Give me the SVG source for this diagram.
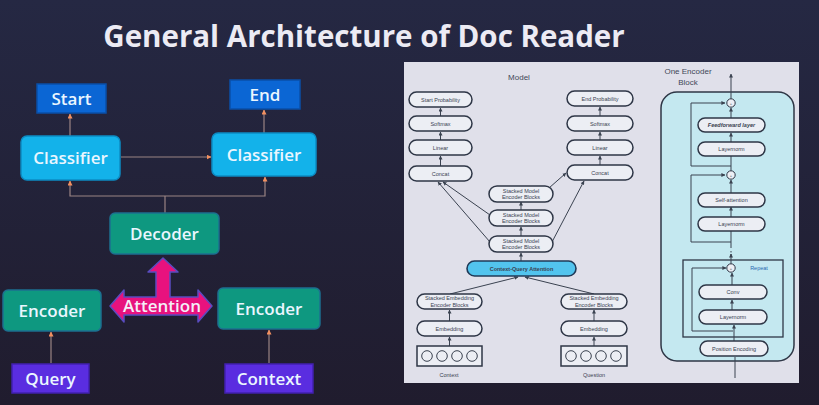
<svg xmlns="http://www.w3.org/2000/svg" width="819" height="405" viewBox="0 0 819 405">
<defs>
<linearGradient id="bg" x1="0" y1="0" x2="0" y2="1">
<stop offset="0" stop-color="#252843"/>
<stop offset="1" stop-color="#201c2e"/>
</linearGradient>
<marker id="oa" viewBox="0 0 10 10" refX="9" refY="5" markerWidth="5" markerHeight="5" orient="auto-start-reverse" markerUnits="userSpaceOnUse">
<path d="M0,0 L10,5 L0,10 Z" fill="#f39060"/>
</marker>
<marker id="ka" viewBox="0 0 10 10" refX="9" refY="5" markerWidth="4" markerHeight="4" orient="auto" markerUnits="userSpaceOnUse">
<path d="M0,0 L10,5 L0,10 Z" fill="#3a4250"/>
</marker>
<style>
.t{font-family:"Open Sans","Noto Sans","Liberation Sans",sans-serif;text-anchor:middle}
.big{font-size:17px;fill:#eaf6ff;font-weight:600}
.ln{stroke:#9a8484;stroke-width:1.2;fill:none}
.pill{fill:#eceef4;stroke:#2e3646;stroke-width:1.5}
.s{font-family:"Liberation Sans","DejaVu Sans",sans-serif;font-size:5.5px;fill:#3a4252;text-anchor:middle}
.k{stroke:#3a4250;stroke-width:1;fill:none}
.cap{font-family:"Liberation Sans",sans-serif;font-size:8px;fill:#404858;text-anchor:middle}
</style>
</defs>
<rect width="819" height="405" fill="url(#bg)"/>
<text x="364" y="47" class="t" font-size="29.5" font-weight="bold" fill="#ecebf4">General Architecture of Doc Reader</text>

<g id="connectors">
<line class="ln" x1="70" y1="136" x2="70" y2="114" marker-end="url(#oa)"/>
<line class="ln" x1="264" y1="133" x2="264" y2="110" marker-end="url(#oa)"/>
<line class="ln" x1="121" y1="157" x2="211" y2="157" marker-end="url(#oa)"/>
<line class="ln" x1="165" y1="213" x2="165" y2="196"/>
<polyline class="ln" points="70,181 70,196 265,196 265,177" marker-start="url(#oa)" marker-end="url(#oa)"/>
<line class="ln" x1="51" y1="363" x2="51" y2="332" marker-end="url(#oa)"/>
<line class="ln" x1="269" y1="363" x2="269" y2="330" marker-end="url(#oa)"/>
</g>

<g id="start"><rect x="37" y="84" width="69" height="29" fill="#0b66d4" stroke="#0a4fa8" stroke-width="1.5"/><text x="71.5" y="105" class="t big">Start</text></g>
<g id="end"><rect x="230" y="80" width="70" height="29" fill="#0b66d4" stroke="#0a4fa8" stroke-width="1.5"/><text x="265" y="101" class="t big">End</text></g>
<g id="classifier-left"><rect x="21" y="136" width="99" height="44" rx="6" fill="#13b2ea" stroke="#0c8cc4" stroke-width="1.5"/><text x="70.5" y="164" class="t big" font-size="18">Classifier</text></g>
<g id="classifier-right"><rect x="212" y="133" width="104" height="43" rx="6" fill="#13b2ea" stroke="#0c8cc4" stroke-width="1.5"/><text x="264" y="161" class="t big" font-size="18">Classifier</text></g>
<g id="decoder"><rect x="110" y="213" width="109" height="41" rx="5" fill="#0e9880" stroke="#1d6f90" stroke-width="1.5"/><text x="164.5" y="240" class="t big" font-size="18" fill="#e2f6ee">Decoder</text></g>
<g id="encoder-left"><rect x="3" y="290" width="98" height="41" rx="5" fill="#0e9880" stroke="#1d6f90" stroke-width="1.5"/><text x="52" y="317" class="t big" font-size="18" fill="#e2f6ee">Encoder</text></g>
<g id="encoder-right"><rect x="218" y="288" width="102" height="41" rx="5" fill="#0e9880" stroke="#1d6f90" stroke-width="1.5"/><text x="269" y="315" class="t big" font-size="18" fill="#e2f6ee">Encoder</text></g>
<g id="attention">
<path d="M110,306 L124,290 L124,297 L156,297 L156,272 L148,272 L163,258 L178,272 L170,272 L170,297 L198,297 L198,290 L212,306 L198,322 L198,315 L124,315 L124,322 Z" fill="#e8127e" stroke="#5a4cc0" stroke-width="1.5" stroke-linejoin="round"/>
<text x="162" y="312" class="t" font-size="17" font-weight="600" fill="#f4eef8">Attention</text>
</g>
<g id="query"><rect x="12" y="364" width="77" height="29" fill="#5a2de0" stroke="#4220b0" stroke-width="1.5"/><text x="50.5" y="385" class="t big" fill="#f0eaff">Query</text></g>
<g id="context"><rect x="225" y="364" width="88" height="29" fill="#5a2de0" stroke="#4220b0" stroke-width="1.5"/><text x="269" y="385" class="t big" fill="#f0eaff">Context</text></g>

<!-- paper figure -->
<g id="paper">
<rect x="404" y="62" width="395" height="321" fill="#e0e0ea"/>
<text x="519" y="80" class="cap">Model</text>

<g id="paper-connectors">
<line class="k" x1="440.5" y1="116" x2="440.5" y2="108" marker-end="url(#ka)"/>
<line class="k" x1="440.5" y1="140" x2="440.5" y2="132" marker-end="url(#ka)"/>
<line class="k" x1="440.5" y1="166" x2="440.5" y2="156" marker-end="url(#ka)"/>
<line class="k" x1="600" y1="116" x2="600" y2="107" marker-end="url(#ka)"/>
<line class="k" x1="600" y1="140" x2="600" y2="132" marker-end="url(#ka)"/>
<line class="k" x1="600" y1="165" x2="600" y2="156" marker-end="url(#ka)"/>
<line class="k" x1="521" y1="210" x2="521" y2="202" marker-end="url(#ka)"/>
<line class="k" x1="521" y1="236" x2="521" y2="227" marker-end="url(#ka)"/>
<line class="k" x1="521" y1="261" x2="521" y2="253" marker-end="url(#ka)"/>
<line class="k" x1="549" y1="188" x2="566" y2="173" marker-end="url(#ka)"/>
<line class="k" x1="490" y1="215" x2="443" y2="182" marker-end="url(#ka)"/>
<line class="k" x1="490" y1="242" x2="438" y2="182" marker-end="url(#ka)"/>
<line class="k" x1="552" y1="242" x2="584" y2="181" marker-end="url(#ka)"/>
<line class="k" x1="450" y1="294" x2="518" y2="277" marker-end="url(#ka)"/>
<line class="k" x1="594" y1="294" x2="525" y2="277" marker-end="url(#ka)"/>
<line class="k" x1="449.5" y1="321" x2="449.5" y2="310" marker-end="url(#ka)"/>
<line class="k" x1="449.5" y1="346" x2="449.5" y2="337" marker-end="url(#ka)"/>
<line class="k" x1="594" y1="321" x2="594" y2="310" marker-end="url(#ka)"/>
<line class="k" x1="594" y1="346" x2="594" y2="337" marker-end="url(#ka)"/>
</g>

<g id="start-prob"><rect class="pill" x="409" y="92" width="63" height="15" rx="7.5"/><text class="s" x="440.5" y="101.5">Start Probability</text></g>
<g id="softmax-l"><rect class="pill" x="409" y="116" width="63" height="15" rx="7.5"/><text class="s" x="440.5" y="125.5">Softmax</text></g>
<g id="linear-l"><rect class="pill" x="409" y="140" width="63" height="15" rx="7.5"/><text class="s" x="440.5" y="149.5">Linear</text></g>
<g id="concat-l"><rect class="pill" x="409" y="166" width="63" height="15" rx="7.5"/><text class="s" x="440.5" y="175.5">Concat</text></g>
<g id="end-prob"><rect class="pill" x="567" y="91" width="66" height="15" rx="7.5"/><text class="s" x="600" y="100.5">End Probability</text></g>
<g id="softmax-r"><rect class="pill" x="567" y="116" width="66" height="15" rx="7.5"/><text class="s" x="600" y="125.5">Softmax</text></g>
<g id="linear-r"><rect class="pill" x="567" y="140" width="66" height="15" rx="7.5"/><text class="s" x="600" y="149.5">Linear</text></g>
<g id="concat-r"><rect class="pill" x="567" y="165" width="66" height="15" rx="7.5"/><text class="s" x="600" y="174.5">Concat</text></g>

<g id="model-block-3"><rect class="pill" x="489" y="186" width="64" height="16" rx="8" fill="#cdeaf4"/><text class="s" x="521" y="192.5">Stacked Model</text><text class="s" x="521" y="199">Encoder Blocks</text></g>
<g id="model-block-2"><rect class="pill" x="489" y="210" width="64" height="16" rx="8" fill="#cdeaf4"/><text class="s" x="521" y="216.5">Stacked Model</text><text class="s" x="521" y="223">Encoder Blocks</text></g>
<g id="model-block-1"><rect class="pill" x="489" y="236" width="64" height="16" rx="8" fill="#cdeaf4"/><text class="s" x="521" y="242.5">Stacked Model</text><text class="s" x="521" y="249">Encoder Blocks</text></g>
<g id="cq-attention"><rect x="467" y="261" width="109" height="15" rx="7.5" fill="#52c4ee" stroke="#203a58" stroke-width="1.6"/><text class="s" x="521.5" y="270.5" fill="#1a3a70" font-weight="bold">Context-Query Attention</text></g>

<g id="emb-enc-c"><rect class="pill" x="417" y="294" width="65" height="15" rx="7.5" fill="#cdeaf4"/><text class="s" x="449.5" y="300">Stacked Embedding</text><text class="s" x="449.5" y="306.5">Encoder Blocks</text></g>
<g id="embedding-c"><rect class="pill" x="417" y="321" width="65" height="15" rx="7.5" fill="#d9ecdf"/><text class="s" x="449.5" y="330.5">Embedding</text></g>
<g id="input-c"><rect x="417" y="346" width="65" height="20" fill="#eceef4" stroke="#2e3646" stroke-width="1.5"/>
<g fill="#eceef4" stroke="#3a4250" stroke-width="1"><circle cx="427" cy="356" r="5.3"/><circle cx="442" cy="356" r="5.3"/><circle cx="457" cy="356" r="5.3"/><circle cx="472" cy="356" r="5.3"/></g></g>
<text class="s" x="449" y="377">Context</text>
<g id="emb-enc-q"><rect class="pill" x="561" y="294" width="66" height="15" rx="7.5" fill="#cdeaf4"/><text class="s" x="594" y="300">Stacked Embedding</text><text class="s" x="594" y="306.5">Encoder Blocks</text></g>
<g id="embedding-q"><rect class="pill" x="561" y="321" width="66" height="15" rx="7.5" fill="#d9ecdf"/><text class="s" x="594" y="330.5">Embedding</text></g>
<g id="input-q"><rect x="561" y="346" width="66" height="20" fill="#eceef4" stroke="#2e3646" stroke-width="1.5"/>
<g fill="#eceef4" stroke="#3a4250" stroke-width="1"><circle cx="571" cy="356" r="5.3"/><circle cx="586" cy="356" r="5.3"/><circle cx="601" cy="356" r="5.3"/><circle cx="616" cy="356" r="5.3"/></g></g>
<text class="s" x="594" y="377">Question</text>

<!-- One encoder block -->
<text class="cap" x="688" y="74" font-size="9">One Encoder</text>
<text class="cap" x="688" y="85" font-size="9">Block</text>
<rect x="661" y="92" width="133" height="269" rx="16" fill="#c4e8f0" stroke="#2e3646" stroke-width="1.5"/>
<rect x="683" y="260" width="100" height="77" fill="none" stroke="#2e3646" stroke-width="1.3"/>
<g id="enc-connectors">
<line class="k" x1="731" y1="99" x2="731" y2="74" marker-end="url(#ka)"/>
<line class="k" x1="731" y1="118" x2="731" y2="108" marker-end="url(#ka)"/>
<line class="k" x1="731" y1="142" x2="731" y2="133" marker-end="url(#ka)"/>
<line class="k" x1="731" y1="171" x2="731" y2="156"/>
<polyline class="k" points="731,166 691,166 691,103 725,103" marker-end="url(#ka)"/>
<line class="k" x1="731" y1="193" x2="731" y2="180" marker-end="url(#ka)"/>
<line class="k" x1="731" y1="217" x2="731" y2="207" marker-end="url(#ka)"/>
<line class="k" x1="731" y1="248" x2="731" y2="231"/>
<polyline class="k" points="731,242 691,242 691,175 725,175" marker-end="url(#ka)"/>
<line class="k" x1="731" y1="251" x2="731" y2="256" stroke-dasharray="1.5 1.5"/>
<line class="k" x1="731" y1="264" x2="731" y2="254" marker-end="url(#ka)"/>
<line class="k" x1="732" y1="285" x2="732" y2="273" marker-end="url(#ka)"/>
<line class="k" x1="732" y1="310" x2="732" y2="300" marker-end="url(#ka)"/>
<line class="k" x1="734" y1="341" x2="734" y2="325" marker-end="url(#ka)"/>
<polyline class="k" points="733,331 692,331 692,268 726,268" marker-end="url(#ka)"/>
<line class="k" x1="735" y1="378" x2="735" y2="357"/>
</g>
<g fill="#eceef4" stroke="#2e3646" stroke-width="1"><circle cx="731" cy="103" r="4.2"/><circle cx="731" cy="175" r="4.2"/><circle cx="731" cy="268" r="4.2"/></g>
<g font-family="Liberation Sans,sans-serif" font-size="4" fill="#2e3646" text-anchor="middle"><text x="731" y="104.5">+</text><text x="731" y="176.5">+</text><text x="731" y="269.5">+</text></g>
<g id="feedforward"><rect class="pill" x="698" y="118" width="67" height="14" rx="7" fill="#cfe9f6" stroke="#1e3a70"/><text class="s" x="731.5" y="127" fill="#1e3a70" font-style="italic" font-weight="bold">Feedforward layer</text></g>
<g id="layernorm-1"><rect class="pill" x="698" y="142" width="67" height="14" rx="7" fill="#e6ead6"/><text class="s" x="731.5" y="151">Layernorm</text></g>
<g id="self-attention"><rect class="pill" x="698" y="193" width="67" height="14" rx="7" fill="#eec2cc"/><text class="s" x="731.5" y="202" fill="#8a2040">Self-attention</text></g>
<g id="layernorm-2"><rect class="pill" x="698" y="217" width="67" height="14" rx="7" fill="#e6ead6"/><text class="s" x="731.5" y="226">Layernorm</text></g>
<text x="759" y="270" font-family="Liberation Sans,sans-serif" font-size="5.5" fill="#2a6ab0" text-anchor="middle">Repeat</text>
<g id="conv"><rect class="pill" x="699" y="285" width="68" height="14" rx="7" fill="#e2b2ea"/><text class="s" x="733" y="294" fill="#7a2070">Conv</text></g>
<g id="layernorm-3"><rect class="pill" x="699" y="310" width="68" height="14" rx="7" fill="#e6ead6"/><text class="s" x="733" y="319">Layernorm</text></g>
<g id="position-encoding"><rect class="pill" x="700" y="341" width="68" height="15" rx="7.5" fill="#cfe3f0"/><text class="s" x="734" y="350.5" fill="#203a60">Position Encoding</text></g>
</g>
</svg>
